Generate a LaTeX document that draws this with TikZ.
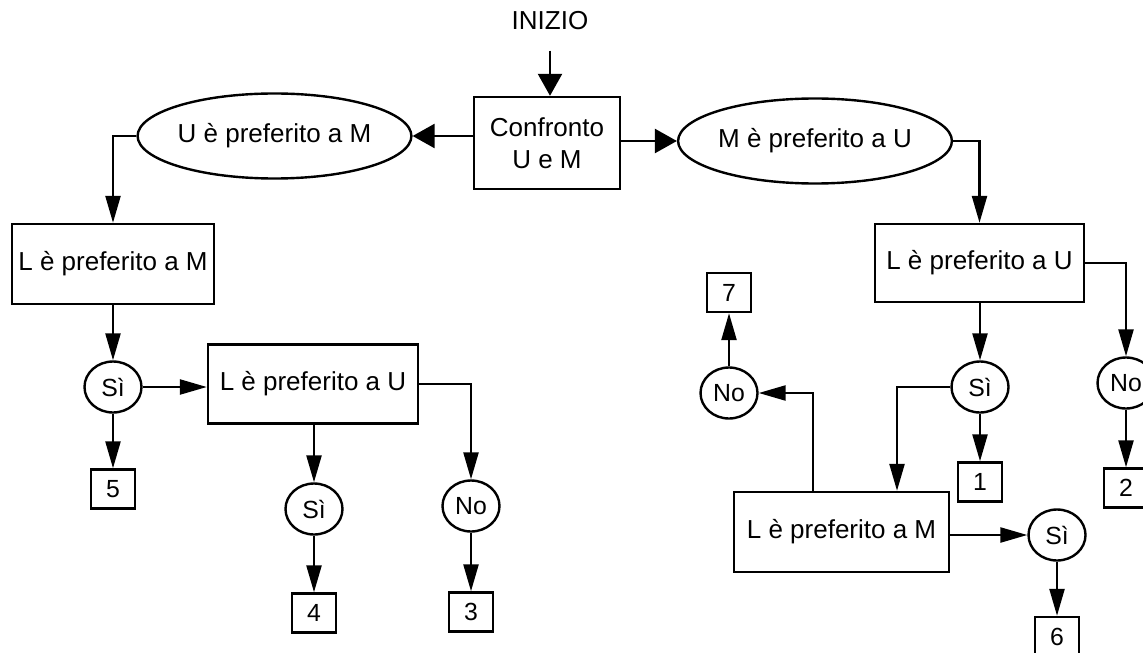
\documentclass[tikz,border=0pt]{standalone}
\usepackage{fontspec}
\setmainfont{Liberation Sans}
\usetikzlibrary{shapes.geometric,arrows.meta}
\begin{document}
\begin{tikzpicture}[x=0.5pt,y=-0.5pt,
  every node/.style={font=\fontsize{13}{16}\selectfont, inner sep=0pt},
  box/.style={draw, line width=1.2pt, rectangle},
  oval/.style={draw, line width=1.2pt, ellipse},
  ans/.style={draw, line width=1.2pt, ellipse, minimum width=28.5pt, minimum height=25.5pt, font=\fontsize{12.4}{14}\selectfont},
  num/.style={draw, line width=1.2pt, rectangle, minimum width=22pt, minimum height=19.5pt, font=\fontsize{12.4}{14}\selectfont},
  arr/.style={line width=1.2pt, -{Triangle[length=13.5pt,width=7.5pt]}},
  bigarr/.style={line width=1.2pt, -{Triangle[length=11pt,width=12pt]}}]
\useasboundingbox (0,0) rectangle (1143,652);
% top
\node (inizio) at (550,21) {INIZIO};
\node[box, minimum width=73pt, minimum height=46pt, align=center] (conf) at (547,143) {Confronto\\U e M};
\node[oval, minimum width=107.5pt, minimum height=42.5pt] (eU) at (274.5,136) {U è preferito a M};
\node[oval, minimum width=113.5pt, minimum height=42.5pt] (eM) at (815,141) {M è preferito a U};
% left branch
\node[box, minimum width=101pt, minimum height=40pt] (LM1) at (113,264) {L è preferito a M};
\node[ans] (si1) at (113,387) {Sì};
\node[num] (n5) at (113,489) {5};
\node[box, minimum width=105pt, minimum height=39.5pt] (LU1) at (313,384) {L è preferito a U};
\node[ans] (si2) at (314,509) {Sì};
\node[ans] (no1) at (471,506) {No};
\node[num] (n4) at (314,613) {4};
\node[num] (n3) at (471,612) {3};
% right branch
\node[box, minimum width=104.5pt, minimum height=39pt] (LU2) at (979.5,263) {L è preferito a U};
\node[ans] (si3) at (980,387) {Sì};
\node[ans] (no2) at (1126,383) {No};
\node[num] (n1) at (980,482) {1};
\node[num] (n2) at (1126,488) {2};
\node[box, minimum width=107.5pt, minimum height=40pt] (LM2) at (841.5,532) {L è preferito a M};
\node[ans] (no3) at (729,393) {No};
\node[num] (n7) at (729,292.5) {7};
\node[ans] (si4) at (1057,535) {Sì};
\node[num] (n6) at (1057,636.5) {6};
% connectors
\draw[bigarr] ([yshift=-10pt]inizio.south) -- (inizio.south|-conf.north);
\draw[bigarr] (conf.west|-eU.east) -- (eU.east);
\draw[bigarr] (conf.east|-eM.west) -- (eM.west);
\draw[arr] (eU.west) -| (LM1.north);
\draw[arr] (LM1.south) -- (si1.north);
\draw[arr] (si1.south) -- (n5.north);
\draw[arr] (si1.east) -- (si1.east-|LU1.west);
\draw[arr] (LU1.south-|si2.north) -- (si2.north);
\draw[arr] (LU1.east) -| (no1.north);
\draw[arr] (si2.south) -- (n4.north);
\draw[arr] (no1.south) -- (n3.north);
\draw[arr] (eM.east) -| (LU2.north);
\draw[arr] (LU2.south-|si3.north) -- (si3.north);
\draw[arr] (LU2.east) -| (no2.north);
\draw[arr] (si3.south) -- (n1.north);
\draw[arr] (no2.south) -- (n2.north);
\draw[arr] (si3.west) -| ([xshift=27.75pt]LM2.north);
\draw[arr] ([xshift=-14.25pt]LM2.north) |- (no3.east);
\draw[arr] (no3.north) -- (n7.south);
\draw[arr] (LM2.east|-si4.west) -- (si4.west);
\draw[arr] (si4.south) -- (n6.north);
\end{tikzpicture}
\end{document}
